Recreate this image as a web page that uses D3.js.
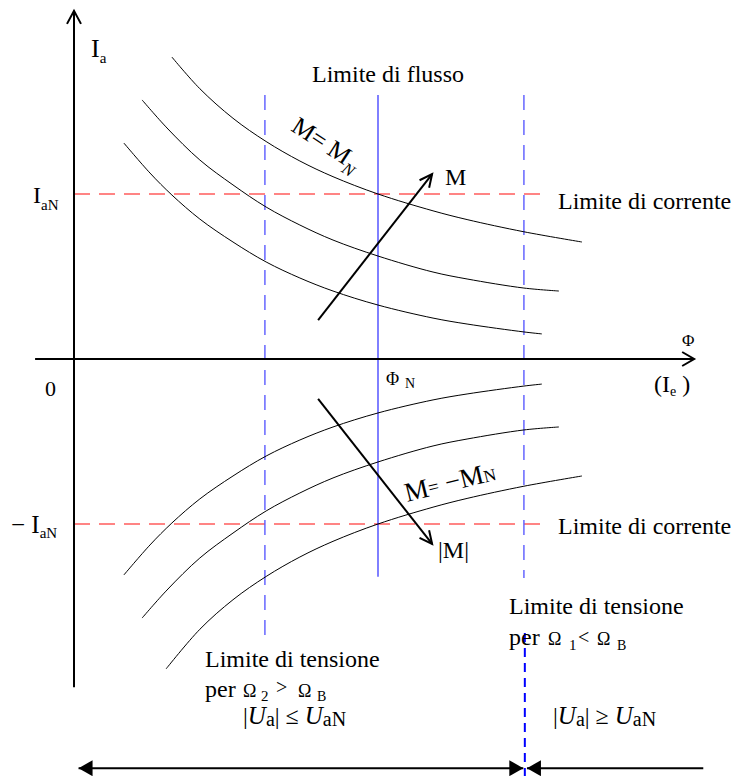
<!DOCTYPE html>
<html>
<head>
<meta charset="utf-8">
<script src="https://cdn.jsdelivr.net/npm/d3@7"></script>
<style>
  body { margin: 0; background: #fff; }
  svg { display: block; }
  text { font-family: "Liberation Serif", "Times New Roman", serif; fill: #000; }
</style>
</head>
<body>
<svg id="chart" width="735" height="776"></svg>
<script>
// Flux Φ normalised to Φ_N, armature current Ia normalised to I_aN.

// Constant-torque curves, motoring quadrant (Ia > 0).
const torqueMN = [[0.322,1.830],[0.414,1.638],[0.523,1.459],[0.632,1.318],[0.743,1.200],[0.852,1.105],[1.000,1.000],[1.181,0.898],[1.293,0.845],[1.480,0.771],[1.671,0.709]];
const torqueMid = [[0.224,1.570],[0.306,1.400],[0.414,1.206],[0.523,1.055],[0.632,0.921],[0.743,0.812],[0.852,0.721],[1.000,0.624],[1.181,0.527],[1.293,0.485],[1.480,0.430],[1.595,0.412]];
const torqueLow = [[0.164,1.309],[0.250,1.127],[0.322,0.994],[0.414,0.848],[0.523,0.709],[0.632,0.588],[0.743,0.491],[0.852,0.412],[1.000,0.327],[1.181,0.248],[1.293,0.212],[1.480,0.164],[1.539,0.152]];

// Constant-torque curves, braking quadrant (Ia < 0).
const torqueNegLow = [[0.164,-1.309],[0.250,-1.127],[0.322,-0.994],[0.414,-0.848],[0.523,-0.709],[0.632,-0.588],[0.743,-0.491],[0.852,-0.412],[1.000,-0.327],[1.181,-0.248],[1.293,-0.212],[1.480,-0.164],[1.539,-0.152]];
const torqueNegMid = [[0.224,-1.570],[0.306,-1.400],[0.414,-1.206],[0.523,-1.055],[0.632,-0.921],[0.743,-0.812],[0.852,-0.721],[1.000,-0.624],[1.181,-0.527],[1.293,-0.485],[1.480,-0.430],[1.595,-0.412]];
const torqueNegMN = [[0.303,-1.878],[0.414,-1.638],[0.523,-1.459],[0.632,-1.318],[0.743,-1.200],[0.852,-1.105],[1.000,-1.000],[1.181,-0.898],[1.293,-0.845],[1.480,-0.771],[1.671,-0.709]];

const torqueCurves = [torqueMN, torqueMid, torqueLow, torqueNegLow, torqueNegMid, torqueNegMN];

// Operating limits
const currentLimits = [1, -1];                 // ±I_aN
const currentLimitSpan = [0, 1.546];           // Φ range of the current-limit lines
const fluxLimit = { phi: 1.0, from: 1.6, to: -1.32 };
const voltageLimits = [
  { phi: 0.628, from: 1.6, to: -1.72 },        // Ω2 > ΩB
  { phi: 1.480, from: 1.6, to: -1.327 }        // Ω1 < ΩB
];
const regionBoundary = { phi: 1.483, from: -1.66, to: -2.53 };

// Direction of increasing torque
const torqueArrows = [
  { from: [0.803, 0.236], to: [1.178, 1.121] },
  { from: [0.803, -0.242], to: [1.178, -1.121] }
];

// Axis extents
const phiExtent = [-0.128, 2.04];
const iaExtent = [-1.99, 2.11];

// Voltage regions along the bottom
const regionArrowLevel = -2.48;
const regionLeft = [0.015, 1.478];
const regionRight = [1.490, 2.07];

const svg = d3.select("#chart");
const x = d3.scaleLinear().domain([0, 1]).range([74, 378]);
const y = d3.scaleLinear().domain([0, 1]).range([359, 194]);

const line = d3.line().x(d => x(d[0])).y(d => y(d[1])).curve(d3.curveCatmullRom.alpha(0.5));

// current limits
svg.selectAll("line.ilim").data(currentLimits).join("line")
  .attr("x1", x(currentLimitSpan[0])).attr("x2", x(currentLimitSpan[1]))
  .attr("y1", d => y(d)).attr("y2", d => y(d))
  .attr("stroke", "#ff5c5c").attr("stroke-width", 1.3).attr("stroke-dasharray", "16 9");

// voltage limits
svg.selectAll("line.vlim").data(voltageLimits).join("line")
  .attr("x1", d => x(d.phi)).attr("x2", d => x(d.phi))
  .attr("y1", d => y(d.from)).attr("y2", d => y(d.to))
  .attr("stroke", "#5b5bff").attr("stroke-width", 1.4).attr("stroke-dasharray", "15 10");

// flux limit
svg.append("line")
  .attr("x1", x(fluxLimit.phi)).attr("x2", x(fluxLimit.phi))
  .attr("y1", y(fluxLimit.from)).attr("y2", y(fluxLimit.to))
  .attr("stroke", "#2a2aff").attr("stroke-width", 1.2);

// boundary between voltage regions
svg.append("line")
  .attr("x1", x(regionBoundary.phi)).attr("x2", x(regionBoundary.phi))
  .attr("y1", y(regionBoundary.from)).attr("y2", y(regionBoundary.to))
  .attr("stroke", "#0000ff").attr("stroke-width", 2).attr("stroke-dasharray", "9 6");

// torque curves
svg.selectAll("path.torque").data(torqueCurves).join("path")
  .attr("d", line).attr("fill", "none").attr("stroke", "#000").attr("stroke-width", 1);

// axes
const axisG = svg.append("g").attr("stroke", "#000").attr("stroke-width", 2).attr("fill", "none");
axisG.append("line").attr("x1", x(0)).attr("x2", x(0)).attr("y1", y(iaExtent[0])).attr("y2", y(iaExtent[1]));
axisG.append("line").attr("x1", x(phiExtent[0])).attr("x2", x(phiExtent[1])).attr("y1", y(0)).attr("y2", y(0));
axisG.append("path").attr("d", `M${x(0) - 7},${y(iaExtent[1]) + 13}L${x(0)},${y(iaExtent[1])}L${x(0) + 7},${y(iaExtent[1]) + 13}`);
axisG.append("path").attr("d", `M${x(phiExtent[1]) - 12},${y(0) - 7}L${x(phiExtent[1])},${y(0)}L${x(phiExtent[1]) - 12},${y(0) + 7}`);

// torque arrows with open heads
torqueArrows.forEach(a => {
  const x1 = x(a.from[0]), y1 = y(a.from[1]), x2 = x(a.to[0]), y2 = y(a.to[1]);
  const ang = Math.atan2(y2 - y1, x2 - x1);
  const L = 14, spread = Math.PI / 7;
  svg.append("line").attr("x1", x1).attr("y1", y1).attr("x2", x2).attr("y2", y2)
    .attr("stroke", "#000").attr("stroke-width", 2);
  svg.append("path")
    .attr("d", `M${x2 - L * Math.cos(ang - spread)},${y2 - L * Math.sin(ang - spread)}L${x2},${y2}L${x2 - L * Math.cos(ang + spread)},${y2 - L * Math.sin(ang + spread)}`)
    .attr("fill", "none").attr("stroke", "#000").attr("stroke-width", 2);
});

// region arrows with filled heads
function filledHead(tipX, tipY, dir) {
  const len = 14, half = 8;
  svg.append("path")
    .attr("d", `M${tipX},${tipY}L${tipX - dir * len},${tipY - half}L${tipX - dir * len},${tipY + half}Z`)
    .attr("fill", "#000");
}
const yr = y(regionArrowLevel);
svg.append("line").attr("x1", x(regionLeft[0])).attr("x2", x(regionLeft[1])).attr("y1", yr).attr("y2", yr)
  .attr("stroke", "#000").attr("stroke-width", 2);
filledHead(x(regionLeft[0]), yr, -1);
filledHead(x(regionLeft[1]), yr, 1);
svg.append("line").attr("x1", x(regionRight[0])).attr("x2", x(regionRight[1])).attr("y1", yr).attr("y2", yr)
  .attr("stroke", "#000").attr("stroke-width", 2);
filledHead(x(regionRight[0]), yr, -1);

// text helper: parts = [text, size, baselineShift, style, absoluteX]
function rich(px, py, parts, rotate) {
  const t = svg.append("text").attr("x", px).attr("y", py);
  if (rotate) t.attr("transform", `rotate(${rotate},${px},${py})`);
  let prev = 0;
  parts.forEach(p => {
    const [str, size, shift = 0, style = "normal", ax] = p;
    const s = t.append("tspan").text(str).attr("font-size", size).attr("dy", shift - prev)
      .attr("font-style", style).attr("xml:space", "preserve");
    if (ax !== undefined) s.attr("x", ax);
    prev = shift;
  });
  return t;
}

rich(91, 57, [["I", 26], ["a", 15, 6]]);
rich(33, 203, [["I", 24], ["aN", 15, 7]]);
rich(11, 533, [["\u2212 I", 25], ["aN", 15, 5]]);
rich(45, 396, [["0", 22]]);
rich(682, 346, [["\u03A6", 17]]);
rich(654, 392, [["(I", 24], ["e", 14, 4], [" )", 24, 0]]);
rich(386, 385, [["\u03A6", 18], ["N", 14, 3, "normal", 405]]);
rich(312, 82, [["Limite di flusso", 24]]);
rich(445, 185, [["M", 24]]);
rich(558, 209, [["Limite di corrente", 24]]);
rich(558, 534, [["Limite di corrente", 24]]);
rich(438, 558, [["|M|", 24]]);
rich(290, 130, [["M= M", 25], ["N", 17, 7, "italic"]], 33);
rich(407, 502, [["M", 27], ["=", 19, -2], [" \u2212M", 27, 0], ["N", 17, 0]], -14);

rich(205, 667, [["Limite di tensione", 24]]);
rich(205, 697, [["per", 24], ["\u03A9", 18, 0, "normal", 243], ["2", 15, 4, "normal", 261], [">", 20, -3, "normal", 276], ["\u03A9", 18, 0, "normal", 298], ["B", 14, 4, "normal", 317]]);
rich(509, 614, [["Limite di tensione", 24]]);
rich(509, 645, [["per", 24], ["\u03A9", 18, 0, "normal", 548], ["1", 15, 5, "normal", 569], ["<", 20, -1, "normal", 578], ["\u03A9", 18, 0, "normal", 597], ["B", 14, 5, "normal", 617]]);

rich(243, 724, [["|", 24], ["U", 25, 0, "italic"], ["a", 20, 2], ["|", 24, 0], [" \u2264 ", 24, 0], ["U", 25, 0, "italic"], ["aN", 20, 2]]);
rich(553, 724, [["|", 24], ["U", 25, 0, "italic"], ["a", 20, 2], ["|", 24, 0], [" \u2265 ", 24, 0], ["U", 25, 0, "italic"], ["aN", 20, 2]]);
</script>
</body>
</html>
